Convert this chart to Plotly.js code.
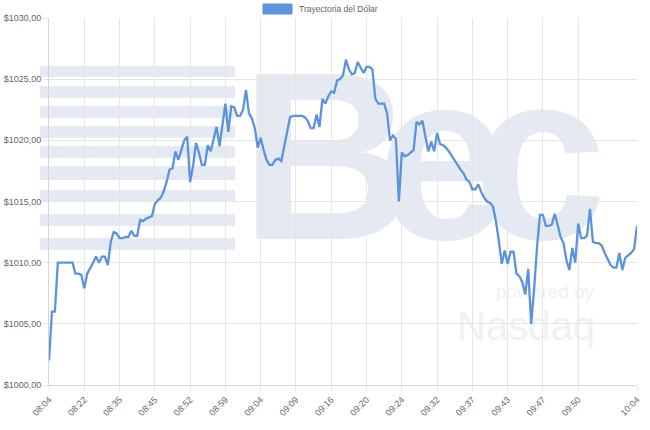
<!DOCTYPE html>
<html><head><meta charset="utf-8">
<script src="https://cdn.plot.ly/plotly-3.0.1.min.js"></script>
<style>html,body{margin:0;padding:0;background:#fff}#chart{width:650px;height:430px}</style>
</head><body><div id="chart"></div>
<script>
const seriesName = 'Trayectoria del Dólar';
const dolarValues = [
1002.0,1006.0,1006.0,1010.0,1010.0,1010.0,1010.0,1010.0,1010.0,1009.1,
1009.1,1009.0,1007.9,1009.1,1009.5,1010.0,1010.5,1010.0,1010.5,1010.5,
1009.8,1011.7,1012.5,1012.4,1012.0,1012.0,1012.1,1012.1,1012.6,1012.2,
1012.2,1013.5,1013.4,1013.6,1013.7,1013.8,1014.8,1015.1,1015.3,1015.8,
1016.6,1017.6,1017.7,1019.1,1018.4,1019.3,1020.0,1020.3,1016.6,1017.9,
1019.8,1019.0,1018.0,1018.0,1019.6,1019.1,1020.0,1021.1,1019.5,1021.4,
1023.0,1020.7,1022.8,1022.7,1022.0,1022.0,1022.5,1024.1,1022.2,1021.8,
1021.0,1019.4,1020.2,1019.2,1018.4,1018.0,1018.0,1018.4,1018.5,1018.3,
1019.5,1020.6,1021.9,1022.0,1022.0,1022.0,1022.0,1021.9,1021.6,1021.0,
1021.0,1022.1,1021.1,1023.4,1023.0,1023.6,1024.0,1023.9,1024.9,1025.0,
1025.3,1026.6,1025.8,1025.4,1025.5,1026.4,1025.9,1025.5,1026.0,1026.0,
1025.8,1023.4,1023.0,1023.0,1023.0,1022.2,1020.0,1020.4,1020.1,1015.0,
1019.0,1018.7,1018.8,1019.0,1019.2,1021.5,1021.3,1021.6,1020.2,1019.1,
1019.9,1019.1,1020.6,1019.7,1019.6,1019.4,1019.1,1018.7,1018.4,1018.0,
1017.6,1017.3,1016.8,1016.6,1016.0,1016.0,1016.4,1015.8,1015.3,1015.0,
1014.9,1014.6,1013.4,1011.8,1009.9,1011.0,1009.9,1010.9,1010.9,1009.1,
1008.9,1008.4,1007.4,1009.5,1005.0,1007.8,1011.3,1013.9,1013.9,1013.0,
1013.0,1013.1,1014.0,1013.1,1012.1,1011.6,1010.2,1009.4,1011.2,1010.0,
1013.2,1012.0,1012.0,1012.2,1014.4,1011.7,1011.6,1011.6,1011.4,1010.8,
1010.3,1009.8,1009.6,1009.6,1010.8,1009.4,1010.4,1010.6,1010.8,1011.1,1013.0
];
const xTickIndex = [0,12,24,36,48,60,72,84,96,108,120,132,144,156,168,180,200];
const xTickLabels = ['08:04','08:22','08:35','08:45','08:52','08:59','09:04','09:09','09:16','09:20','09:24','09:32','09:37','09:43','09:47','09:50','10:04'];
const yTickValues = [1000,1005,1010,1015,1020,1025,1030];
const yTickLabels = ['$1000,00','$1005,00','$1010,00','$1015,00','$1020,00','$1025,00','$1030,00'];

const pointIndex = dolarValues.map((_, i) => i);
const lineColor = '#5b93dc';
const wm = '#e5e9f1';
const font = 'Liberation Sans, Arial, sans-serif';

// watermark stripes (decoration)
const stripes = [[66,77],[86,98],[106,118],[126,138],[146,158],[166,180],[190,202],[214,226],[238,250]];
const py = v => (385 - v) / 367;
const px = v => (v - 49) / 588;
const shapes = stripes.map(s => ({type:'rect', xref:'paper', yref:'paper', layer:'below',
  x0:px(40), x1:px(235), y0:py(s[1]), y1:py(s[0]), fillcolor:wm, line:{width:0}}));
function label(t, cx, cy, size, color){
  return {type:'rect', xref:'paper', yref:'paper', layer:'below',
    x0:px(cx-60), x1:px(cx+60), y0:py(cy+30), y1:py(cy-30), line:{width:0}, fillcolor:'rgba(0,0,0,0)',
    label:{text:t, textposition:'middle center', font:{family:font, size:size, color:color}}};
}
shapes.push(label('<span style="letter-spacing:-37px"><b>Bec</b></span>', 405, 133, 240, wm));
shapes.push(label('powered by', 545, 289, 19, '#eef1f5'));
shapes.push(label('Nasdaq', 526, 322, 40, '#eef1f5'));
// legend box
shapes.push({type:'rect', xref:'paper', yref:'paper', x0:px(263), x1:px(292), y0:py(14), y1:py(4),
  fillcolor:lineColor, line:{color:lineColor, width:1}});

const trace = {
  x: pointIndex, y: dolarValues, name: seriesName, type:'scatter', mode:'lines',
  line:{color:lineColor, width:2.3}, hoverinfo:'skip'
};

const layout = {
  width:650, height:430,
  margin:{l:49, r:13, t:18, b:45, pad:0},
  paper_bgcolor:'#fff', plot_bgcolor:'rgba(0,0,0,0)',
  showlegend:false,
  font:{family:font, size:9, color:'#666'},
  xaxis:{range:[0,200], tickvals:xTickIndex, ticktext:xTickLabels, tickangle:-45,
    showgrid:true, gridcolor:'#e6e6e6', gridwidth:1, zeroline:false,
    showline:true, linecolor:'#d6d6d6', ticks:'outside', ticklen:5, tickcolor:'#e6e6e6',
    tickfont:{family:font, size:9, color:'#666'}},
  yaxis:{range:[1000,1030], tickvals:yTickValues, ticktext:yTickLabels,
    showgrid:true, gridcolor:'#e6e6e6', gridwidth:1, zeroline:false,
    showline:true, linecolor:'#d6d6d6', ticks:'outside', ticklen:5, tickcolor:'#e6e6e6',
    tickfont:{family:font, size:9, color:'#666'}},
  shapes: shapes,
  annotations:[{xref:'paper', yref:'paper', x:px(297), y:py(9), xanchor:'left', yanchor:'middle',
    text:seriesName, showarrow:false, font:{family:font, size:8.5, color:'#666'}}]
};
Plotly.newPlot('chart', [trace], layout, {displayModeBar:false, staticPlot:true});
</script></body></html>
